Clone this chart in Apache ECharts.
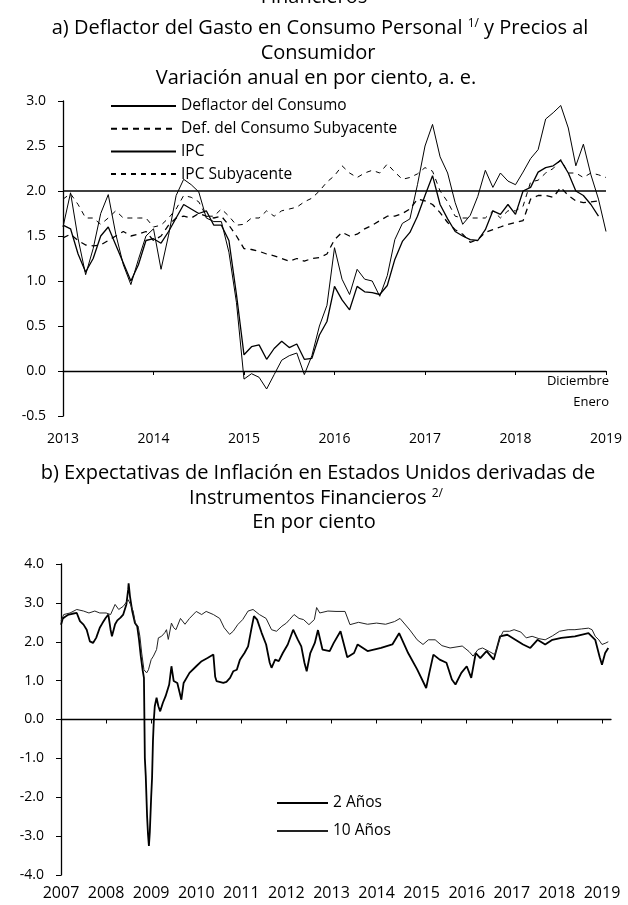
<!DOCTYPE html>
<html><head><meta charset="utf-8">
<script src="https://cdn.jsdelivr.net/npm/echarts@6/dist/echarts.min.js"></script>
<style>html,body{margin:0;padding:0;background:#fff}#c{width:628px;height:905px}</style>
</head><body><div id="c"></div>
<script>
// ---------- Panel a: monthly, Jan 2013 .. Jan 2019 ----------
const startYearA = 2013;
const yearTicksA = [2013, 2014, 2015, 2016, 2017, 2018, 2019];
const yTicksA = ['-0.5', '0.0', '0.5', '1.0', '1.5', '2.0', '2.5', '3.0'];

const deflactor = [
  1.62, 1.58, 1.30, 1.10, 1.25, 1.50, 1.60, 1.40, 1.20, 1.00, 1.18, 1.45,
  1.47, 1.42, 1.55, 1.70, 1.85, 1.80, 1.75, 1.78, 1.62, 1.62, 1.45, 0.85,
  0.18, 0.27, 0.29, 0.13, 0.25, 0.33, 0.26, 0.30, 0.13, 0.14, 0.40, 0.55,
  0.94, 0.79, 0.68, 0.94, 0.88, 0.87, 0.85, 0.95, 1.24, 1.44, 1.54, 1.72,
  1.95, 2.17, 1.85, 1.69, 1.55, 1.50, 1.46, 1.45, 1.57, 1.78, 1.74, 1.85,
  1.74, 2.00, 2.04, 2.21, 2.26, 2.28, 2.34, 2.20, 2.00, 1.95, 1.85, 1.72
];
const deflactorSub = [
  1.48, 1.52, 1.45, 1.40, 1.39, 1.40, 1.45, 1.50, 1.55, 1.50, 1.52, 1.55,
  1.45, 1.50, 1.62, 1.70, 1.72, 1.70, 1.75, 1.72, 1.70, 1.72, 1.62, 1.50,
  1.36, 1.35, 1.33, 1.30, 1.28, 1.25, 1.22, 1.25, 1.22, 1.25, 1.26, 1.30,
  1.46, 1.54, 1.50, 1.52, 1.58, 1.62, 1.67, 1.72, 1.72, 1.75, 1.80, 1.91,
  1.89, 1.85, 1.76, 1.65, 1.57, 1.52, 1.43, 1.46, 1.54, 1.57, 1.60, 1.63,
  1.65, 1.67, 1.91, 1.95, 1.95, 1.93, 2.04, 1.95, 1.89, 1.87, 1.88, 1.89
];
const ipc = [
  1.60, 1.98, 1.47, 1.07, 1.36, 1.75, 1.96, 1.52, 1.18, 0.96, 1.24, 1.50,
  1.58, 1.13, 1.51, 1.95, 2.13, 2.07, 1.99, 1.70, 1.66, 1.66, 1.32, 0.76,
  -0.09, -0.03, -0.07, -0.20, -0.04, 0.12, 0.17, 0.20, -0.04, 0.17, 0.50, 0.73,
  1.37, 1.02, 0.85, 1.13, 1.02, 1.00, 0.83, 1.06, 1.46, 1.64, 1.69, 2.07,
  2.50, 2.74, 2.38, 2.20, 1.87, 1.63, 1.73, 1.94, 2.23, 2.04, 2.20, 2.11,
  2.07, 2.21, 2.36, 2.46, 2.80, 2.87, 2.95, 2.70, 2.28, 2.52, 2.18, 1.91,
  1.55
];
const ipcSub = [
  1.91, 1.97, 1.85, 1.70, 1.70, 1.63, 1.70, 1.78, 1.70, 1.70, 1.70, 1.70,
  1.60, 1.62, 1.70, 1.80, 1.95, 1.93, 1.88, 1.72, 1.72, 1.80, 1.72, 1.62,
  1.63, 1.70, 1.70, 1.78, 1.72, 1.78, 1.80, 1.82, 1.88, 1.92, 2.00, 2.10,
  2.17, 2.28, 2.20, 2.15, 2.20, 2.23, 2.20, 2.30, 2.21, 2.13, 2.15, 2.19,
  2.26, 2.22, 2.00, 1.88, 1.72, 1.70, 1.70, 1.70, 1.70, 1.78, 1.70, 1.78,
  1.78, 1.83, 2.10, 2.12, 2.20, 2.25, 2.35, 2.20, 2.20, 2.15, 2.20, 2.18,
  2.15
];

// ---------- Panel b: [decimal year, value] ----------
const yearTicksB = [2007,2008,2009,2010,2011,2012,2013,2014,2015,2016,2017,2018,2019];
const yTicksB = ['-4.0','-3.0','-2.0','-1.0','0.0','1.0','2.0','3.0','4.0'];
const dos = [
 [2007.00,2.44],[2007.04,2.60],[2007.10,2.65],[2007.17,2.70],[2007.25,2.72],[2007.35,2.74],
 [2007.42,2.53],[2007.50,2.44],[2007.57,2.31],[2007.64,2.01],[2007.71,1.97],[2007.78,2.10],
 [2007.86,2.36],[2007.92,2.48],[2007.99,2.61],[2008.05,2.70],[2008.10,2.31],[2008.13,2.14],
 [2008.20,2.45],[2008.25,2.55],[2008.32,2.62],[2008.38,2.70],[2008.45,2.96],[2008.49,3.34],
 [2008.50,3.50],[2008.53,3.17],[2008.58,2.79],[2008.64,2.48],[2008.69,2.40],[2008.73,2.06],
 [2008.77,1.63],[2008.81,1.28],[2008.84,1.07],[2008.86,-1.00],[2008.88,-1.45],[2008.91,-2.50],
 [2008.93,-2.95],[2008.95,-3.25],[2008.97,-2.90],[2009.00,-2.00],[2009.02,-1.50],[2009.04,-0.55],
 [2009.06,0.00],[2009.08,0.34],[2009.12,0.56],[2009.16,0.34],[2009.20,0.21],[2009.26,0.43],
 [2009.32,0.60],[2009.40,0.90],[2009.45,1.37],[2009.50,0.99],[2009.58,0.94],[2009.67,0.51],
 [2009.72,0.94],[2009.85,1.20],[2010.00,1.37],[2010.12,1.50],[2010.25,1.58],[2010.38,1.67],
 [2010.42,1.10],[2010.45,0.99],[2010.60,0.94],[2010.67,0.97],[2010.75,1.07],[2010.82,1.24],
 [2010.90,1.28],[2010.97,1.54],[2011.07,1.71],[2011.15,1.88],[2011.22,2.31],[2011.28,2.66],
 [2011.35,2.57],[2011.45,2.23],[2011.55,1.93],[2011.63,1.46],[2011.67,1.33],[2011.75,1.54],
 [2011.83,1.50],[2011.92,1.71],[2012.03,1.93],[2012.15,2.31],[2012.25,2.06],[2012.33,1.88],
 [2012.40,1.46],[2012.45,1.24],[2012.53,1.71],[2012.63,1.97],[2012.70,2.30],[2012.80,1.80],
 [2012.96,1.76],[2013.05,1.97],[2013.20,2.27],[2013.35,1.60],[2013.50,1.71],[2013.58,1.93],
 [2013.80,1.76],[2014.10,1.84],[2014.35,1.93],[2014.50,2.22],[2014.70,1.71],[2014.90,1.29],
 [2015.10,0.81],[2015.17,1.20],[2015.26,1.67],[2015.40,1.54],[2015.55,1.46],[2015.67,1.03],
 [2015.75,0.90],[2015.88,1.20],[2016.00,1.37],[2016.10,1.07],[2016.20,1.71],[2016.30,1.58],
 [2016.44,1.76],[2016.60,1.54],[2016.74,2.14],[2016.90,2.18],[2017.07,2.06],[2017.25,1.93],
 [2017.41,1.84],[2017.57,2.05],[2017.74,1.93],[2017.90,2.05],[2018.10,2.10],[2018.40,2.14],
 [2018.70,2.22],[2018.85,2.05],[2018.95,1.60],[2019.00,1.41],[2019.07,1.71],[2019.14,1.84]
];
const diez = [
 [2007.00,2.53],[2007.06,2.70],[2007.20,2.74],[2007.35,2.83],[2007.50,2.79],[2007.62,2.74],
 [2007.75,2.79],[2007.86,2.74],[2008.00,2.74],[2008.10,2.70],[2008.20,2.96],[2008.28,2.83],
 [2008.38,2.91],[2008.49,3.08],[2008.54,2.96],[2008.60,2.79],[2008.65,2.48],[2008.71,2.40],
 [2008.75,2.14],[2008.79,1.71],[2008.84,1.28],[2008.90,1.20],[2008.94,1.28],[2009.00,1.54],
 [2009.05,1.63],[2009.12,1.80],[2009.16,2.10],[2009.23,2.14],[2009.30,2.23],[2009.34,2.31],
 [2009.38,2.06],[2009.45,2.48],[2009.50,2.36],[2009.55,2.31],[2009.65,2.60],[2009.75,2.45],
 [2009.85,2.60],[2010.00,2.78],[2010.12,2.70],[2010.22,2.78],[2010.38,2.70],[2010.52,2.60],
 [2010.62,2.36],[2010.74,2.19],[2010.82,2.27],[2010.92,2.44],[2011.03,2.57],[2011.15,2.79],
 [2011.26,2.83],[2011.40,2.70],[2011.55,2.60],[2011.67,2.31],[2011.78,2.27],[2011.90,2.40],
 [2012.00,2.48],[2012.07,2.57],[2012.17,2.70],[2012.28,2.60],[2012.38,2.57],[2012.50,2.44],
 [2012.62,2.57],[2012.67,2.88],[2012.74,2.74],[2012.92,2.79],[2013.10,2.78],[2013.30,2.78],
 [2013.41,2.44],[2013.60,2.50],[2013.80,2.45],[2014.00,2.48],[2014.20,2.45],[2014.40,2.52],
 [2014.52,2.60],[2014.74,2.30],[2014.90,2.05],[2015.03,1.93],[2015.15,2.05],[2015.30,2.05],
 [2015.45,1.90],[2015.63,1.84],[2015.90,1.89],[2016.05,1.75],[2016.14,1.63],[2016.25,1.80],
 [2016.35,1.84],[2016.50,1.75],[2016.62,1.67],[2016.74,2.10],[2016.81,2.27],[2016.95,2.27],
 [2017.05,2.31],[2017.20,2.25],[2017.32,2.10],[2017.45,2.14],[2017.60,2.08],[2017.74,2.05],
 [2017.90,2.15],[2018.06,2.27],[2018.25,2.31],[2018.40,2.31],[2018.55,2.33],[2018.70,2.35],
 [2018.78,2.31],[2018.85,2.14],[2018.93,2.05],[2019.00,1.93],[2019.07,1.96],[2019.14,2.00]
];

const FONT = 'Open Sans';
function monthly(arr){ return arr.map((v,i)=>[startYearA + i/12, v]); }

const chart = echarts.init(document.getElementById('c'), null, {renderer:'canvas'});
const axisLineStyle = {color:'#000', width:1.3};
const TF = '20px "Open Sans"';
const supRich = {n:{fontFamily:FONT, fontSize:20, fill:'#000'}, s:{fontFamily:FONT, fontSize:12, fill:'#000', verticalAlign:'top', padding:[0,0,7,0]}};
const option = {
  backgroundColor:'#fff',
  animation:false,
  textStyle:{fontFamily:FONT, color:'#000'},
  graphic:[
    {type:'text', left:'center', top:-13, style:{text:'Financieros', font:TF, fill:'#000'}},
    {type:'text', x:320, y:28, style:{text:'{n|a) Deflactor del Gasto en Consumo Personal }{s|1/}{n| y Precios al}', textAlign:'center', textVerticalAlign:'middle', rich:supRich}},
    {type:'text', x:318, y:53, style:{text:'Consumidor', textAlign:'center', textVerticalAlign:'middle', font:TF, fill:'#000'}},
    {type:'text', x:316, y:78, style:{text:'Variación anual en por ciento, a. e.', textAlign:'center', textVerticalAlign:'middle', font:TF, fill:'#000'}},
    {type:'text', x:609, y:381, style:{text:'Diciembre', textAlign:'right', textVerticalAlign:'middle', font:'13px "Open Sans"', fill:'#000'}},
    {type:'text', x:609, y:402, style:{text:'Enero', textAlign:'right', textVerticalAlign:'middle', font:'13px "Open Sans"', fill:'#000'}},
    {type:'text', x:318, y:473, style:{text:'b) Expectativas de Inflación en Estados Unidos derivadas de', textAlign:'center', textVerticalAlign:'middle', font:TF, fill:'#000'}},
    {type:'text', x:316, y:498, style:{text:'{n|Instrumentos Financieros }{s|2/}', textAlign:'center', textVerticalAlign:'middle', rich:supRich}},
    {type:'text', x:314, y:522, style:{text:'En por ciento', textAlign:'center', textVerticalAlign:'middle', font:TF, fill:'#000'}}
  ],
  legend:[
    {data:['Deflactor del Consumo','Def. del Consumo Subyacente','IPC','IPC Subyacente'],
     orient:'vertical', left:110, top:98, padding:0, itemWidth:65, itemHeight:12, itemGap:6.7,
     itemStyle:{opacity:0},
     textStyle:{fontFamily:FONT, fontSize:15.5, color:'#000', lineHeight:16}, selectedMode:false},
    {data:['2 Años','10 Años'], orient:'vertical', left:276, top:795, padding:0, itemWidth:51, itemHeight:12, itemGap:12,
     itemStyle:{opacity:0},
     textStyle:{fontFamily:FONT, fontSize:15.5, color:'#000', lineHeight:16}, selectedMode:false}
  ],
  grid:[
    {left:63, right:22, top:101, height:315},
    {left:61, right:17, top:564, height:311}
  ],
  xAxis:[
    {gridIndex:0, type:'value', min:2013, max:2019, interval:1,
     axisLine:{lineStyle:axisLineStyle}, axisTick:{length:4, lineStyle:{color:'#000'}},
     axisLabel:{fontFamily:FONT, fontSize:14, color:'#000', margin:16, formatter:v=>String(v),
       customValues: yearTicksA},
     splitLine:{show:false}},
    {gridIndex:1, type:'value', min:2007, max:2019.2, interval:1,
     axisLine:{lineStyle:axisLineStyle}, axisTick:{length:4, lineStyle:{color:'#000'}, customValues: yearTicksB},
     axisLabel:{fontFamily:FONT, fontSize:16, color:'#000', margin:10, formatter:v=>String(v), customValues: yearTicksB},
     splitLine:{show:false}}
  ],
  yAxis:[
    {gridIndex:0, type:'value', min:-0.5, max:3, interval:0.5,
     axisLine:{show:true, lineStyle:axisLineStyle}, axisTick:{show:true, length:5, lineStyle:{color:'#000'}},
     axisLabel:{fontFamily:FONT, fontSize:14, color:'#000', margin:17, formatter:v=>yTicksA[Math.round((v+0.5)/0.5)]},
     splitLine:{show:false}},
    {gridIndex:1, type:'value', min:-4, max:4, interval:1,
     axisLine:{show:true, lineStyle:axisLineStyle}, axisTick:{show:true, length:5, lineStyle:{color:'#000'}},
     axisLabel:{fontFamily:FONT, fontSize:14, color:'#000', margin:17, formatter:v=>yTicksB[Math.round(v+4)]},
     splitLine:{show:false}}
  ],
  series:[
    {name:'Deflactor del Consumo', type:'line', xAxisIndex:0, yAxisIndex:0, data:monthly(deflactor),
     symbol:'none', lineStyle:{color:'#000', width:1.3, type:'solid'}, itemStyle:{color:'#000'},
     markLine:{silent:true, symbol:'none', label:{show:false}, lineStyle:{color:'#000', width:1.6, type:'solid'}, data:[{yAxis:2}]}},
    {name:'Def. del Consumo Subyacente', type:'line', xAxisIndex:0, yAxisIndex:0, data:monthly(deflactorSub),
     symbol:'none', lineStyle:{color:'#000', width:1.3, type:[6,5]}, itemStyle:{color:'#000'}},
    {name:'IPC', type:'line', xAxisIndex:0, yAxisIndex:0, data:monthly(ipc),
     symbol:'none', lineStyle:{color:'#000', width:1, type:'solid'}, itemStyle:{color:'#000'}},
    {name:'IPC Subyacente', type:'line', xAxisIndex:0, yAxisIndex:0, data:monthly(ipcSub),
     symbol:'none', lineStyle:{color:'#000', width:1, type:[5,5]}, itemStyle:{color:'#000'}},
    {name:'2 Años', type:'line', xAxisIndex:1, yAxisIndex:1, data:dos,
     symbol:'none', lineStyle:{color:'#000', width:1.8}, itemStyle:{color:'#000'}},
    {name:'10 Años', type:'line', xAxisIndex:1, yAxisIndex:1, data:diez,
     symbol:'none', lineStyle:{color:'#222', width:1}, itemStyle:{color:'#222'}}
  ]
};
chart.setOption(option);
</script></body></html>
